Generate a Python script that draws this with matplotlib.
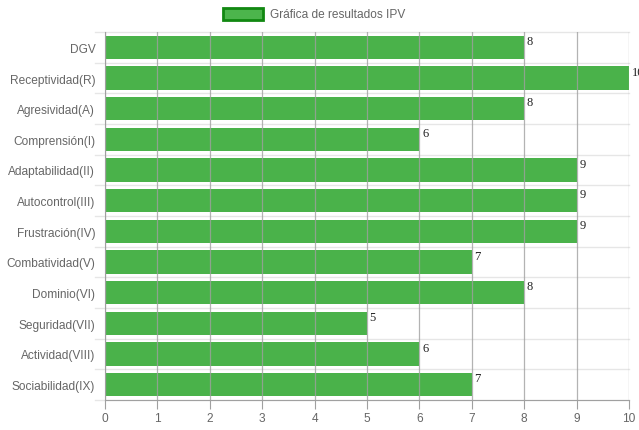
import numpy as np
import matplotlib.pyplot as plt

categories = ['DGV', 'Receptividad(R)', 'Agresividad(A)', 'Comprensión(I)',
              'Adaptabilidad(II)', 'Autocontrol(III)', 'Frustración(IV)',
              'Combatividad(V)', 'Dominio(VI)', 'Seguridad(VII)',
              'Actividad(VIII)', 'Sociabilidad(IX)']
values = [8, 10, 8, 6, 9, 9, 9, 7, 8, 5, 6, 7]
xticks = list(range(0, 11))

plt.rcParams['font.family'] = ['Liberation Sans', 'DejaVu Sans']

fig = plt.figure(figsize=(6.39, 4.31), dpi=100)
ax = fig.add_axes([105 / 639, 1 - 401 / 431, 524 / 639, 368 / 431])

y = np.arange(len(categories))
ax.barh(y, values, height=0.76, color='#2aa52a', alpha=0.85, zorder=1)

# grid lines
for xv in xticks:
    ax.axvline(xv, color='#a0a0a0', lw=0.9, zorder=2, alpha=0.8)
for b in np.arange(-0.5, len(categories) + 0.5, 1):
    ax.plot([-0.2, 10], [b, b], color='#e6e6e6', lw=1, zorder=0, clip_on=False)

for yi, v in zip(y, values):
    ax.text(v + 0.05, yi - 0.4, str(v), fontsize=9, family='Liberation Serif',
            va='top', ha='left', color='#222222', zorder=3)

ax.set_xlim(0, 10)
ax.set_ylim(len(categories) - 0.5, -0.5)
ax.set_yticks(y)
ax.set_yticklabels(categories, fontsize=8.6, color='#666666')
ax.set_xticks(xticks)
ax.set_xticklabels([str(t) for t in xticks], fontsize=8.6, color='#666666')
ax.tick_params(axis='y', length=0, pad=7)
ax.tick_params(axis='x', length=6.5, color='#a0a0a0', pad=2)
for s in ['top', 'right']:
    ax.spines[s].set_visible(False)
ax.spines['left'].set_color('#a0a0a0')
ax.spines['bottom'].set_color('#a0a0a0')

# legend
fig.patches.append(plt.Rectangle((223 / 639, 1 - 21 / 431), 40 / 639, 12 / 431,
                                 transform=fig.transFigure, facecolor='#4cb54c',
                                 edgecolor='#118811', lw=2))
fig.text(270 / 639, 1 - 15 / 431, 'Gráfica de resultados IPV', fontsize=8.6,
         color='#666666', va='center', ha='left')

fig.savefig('out.png', dpi=100)
